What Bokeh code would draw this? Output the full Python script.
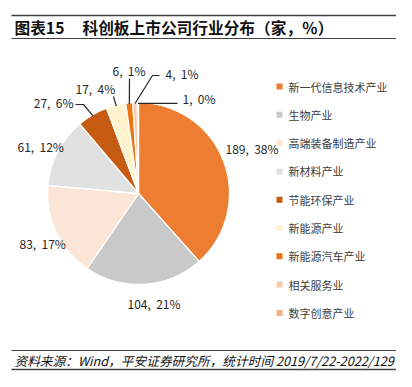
import math
from bokeh.plotting import figure
from bokeh.models import Range1d
from bokeh.core.properties import value
from bokeh.embed import file_html
from bokeh.resources import INLINE

# ---- data ----
categories = ["新一代信息技术产业", "生物产业", "高端装备制造产业", "新材料产业", "节能环保产业",
              "新能源产业", "新能源汽车产业", "相关服务业", "数字创意产业"]
counts = [189, 104, 83, 61, 27, 17, 6, 4, 1]
pct_labels = ["38%", "21%", "17%", "12%", "6%", "4%", "1%", "1%", "0%"]
colors = ["#ED7D31", "#C9C9C9", "#FBE5D6", "#E1E1E1", "#C55A11", "#FFF2CC", "#EB7512", "#F8CBAD", "#F4B183"]

title_a = "图表15"
title_b = "科创板上市公司行业分布（家，％）"
footer = "资料来源：Wind，平安证券研究所，统计时间 2019/7/22-2022/129"

W, H = 396, 371
OFF = 0
def fy(y):  # reference-pixel y -> data y
    return (H + OFF) - y
def fx(x):
    return x - OFF

CJK = value("Noto Sans CJK SC")

p = figure(width=W, height=H, output_backend="svg", toolbar_location=None,
           x_range=Range1d(0, W), y_range=Range1d(0, H), min_border=0)
p.axis.visible = False
p.grid.visible = False
p.outline_line_color = None
p.background_fill_color = "white"

# ---- title & footer rules ----
for yy, lw in [(15, 1.5), (38, 1.2), (350, 1.2), (369, 1.5)]:
    p.line([fx(11), fx(400)], [fy(yy), fy(yy)], line_color="#404040", line_width=lw)

p.text([fx(14)], [fy(27)], text=[title_a], text_font=CJK, text_font_size="15.7px",
       text_font_style="bold", text_baseline="middle", text_color="#111111")
p.text([fx(82)], [fy(27)], text=[title_b], text_font=CJK, text_font_size="15.7px",
       text_font_style="bold", text_baseline="middle", text_color="#111111")
p.text([fx(14)], [fy(360)], text=[footer], text_font=CJK, text_font_size="12.7px",
       text_font_style="italic", text_baseline="middle", text_color="#111111")

# ---- pie ----
cx, cy, R = fx(138), fy(193), 91
total = sum(counts)
starts, ends, mids = [], [], []
cum = 0
for c in counts:
    a0 = math.pi / 2 - 2 * math.pi * cum / total
    cum += c
    a1 = math.pi / 2 - 2 * math.pi * cum / total
    starts.append(a0); ends.append(a1); mids.append((a0 + a1) / 2)

p.wedge(x=[cx] * len(counts), y=[cy] * len(counts), radius=R,
        start_angle=starts, end_angle=ends, direction="clock",
        fill_color=colors, line_color="white", line_width=1.3)

# ---- labels ----
# layout: label anchor (ref px), alignment, leader elbow points (ref px) or None
label_layout = [
    ((225, 148), "left", None),
    ((127, 303), "left", None),
    ((19, 243), "left", None),
    ((17, 146), "left", None),
    ((73, 102), "right", [(83, 104), (75, 104)]),
    ((75, 88), "left", [(113, 96)]),
    ((112, 70), "left", [(129, 78)]),
    ((165, 73), "left", [(152, 75), (159, 75)]),
    ((182, 98), "left", [(177, 101)]),
]
for i, (c, pl) in enumerate(zip(counts, pct_labels)):
    (lx, ly), align, elbow = label_layout[i]
    p.text([fx(lx)], [fy(ly)], text=[f"{c},\u00a0 {pl}"], text_font=CJK, text_font_size="12px",
           text_align=align, text_baseline="middle", text_color="#262626")
    if elbow:
        rx = cx + R * 0.99 * math.cos(mids[i])
        ry = cy + R * 0.99 * math.sin(mids[i])
        xs = [rx] + [fx(e[0]) for e in elbow]
        ys = [ry] + [fy(e[1]) for e in elbow]
        if len(elbow) == 1 and i == 8:
            ys = [ry, ry]
        p.line(xs, ys, line_color="#262626", line_width=1.2)

# ---- legend ----
leg_y0, leg_dy = 86, 28.3
for i, (cat, col) in enumerate(zip(categories, colors)):
    yy = fy(leg_y0 + i * leg_dy)
    p.rect([fx(279)], [yy], width=6, height=6, fill_color=col, line_color=None)
    p.text([fx(288)], [yy], text=[cat], text_font=CJK, text_font_size="11px",
           text_baseline="middle", text_color="#404040")

open("out.html", "w").write(file_html(p, INLINE))
